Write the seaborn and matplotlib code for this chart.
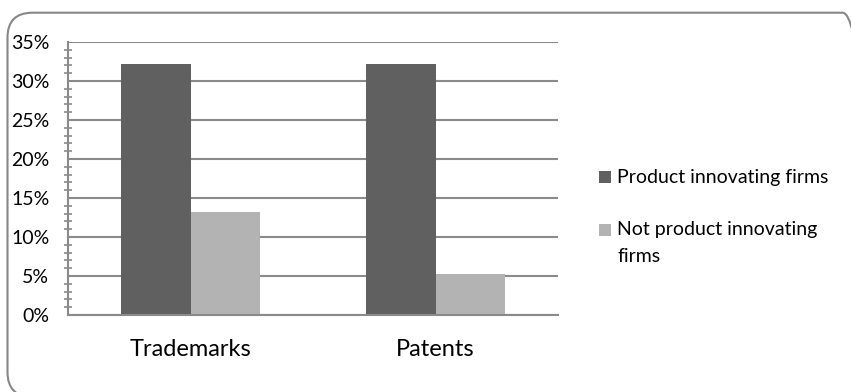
import matplotlib
matplotlib.use("Agg")
import matplotlib.pyplot as plt
import matplotlib.ticker as mticker
from matplotlib.patches import FancyBboxPatch, Rectangle
from matplotlib.transforms import IdentityTransform
import pandas as pd
import seaborn as sns

# Share of firms (%) holding each kind of intellectual property
categories = ["Trademarks", "Patents"]
groups = ["Product innovating firms", "Not product innovating firms"]
innovating = [32.2, 32.2]
not_innovating = [13.2, 5.3]
legend_labels = ["Product innovating firms", "Not product innovating\nfirms"]
colors = ["#606060", "#b3b3b3"]

df = pd.DataFrame({
    "category": categories * 2,
    "group": [groups[0]] * 2 + [groups[1]] * 2,
    "value": innovating + not_innovating,
})

sns.set_theme(style="white")
plt.rcParams["font.family"] = ["Lato", "DejaVu Sans"]

W, H = 851, 392
fig = plt.figure(figsize=(W / 100, H / 100), dpi=100)
ax = fig.add_axes([68 / W, 1 - 315 / H, 490 / W, 273 / H])

sns.barplot(data=df, x="category", y="value", hue="group", palette=colors,
            width=0.567, saturation=1, gap=0, ax=ax, legend=False,
            edgecolor="none", linewidth=0)

grid_c = "#8a8a8a"
ax.set_xlim(-0.5, 1.5)
ax.set_ylim(0, 35)
ax.yaxis.set_major_locator(mticker.MultipleLocator(5))
ax.yaxis.set_minor_locator(mticker.MultipleLocator(1))
ax.yaxis.set_major_formatter(mticker.FuncFormatter(lambda v, p: f"{v:.0f}%"))
ax.grid(axis="y", which="major", color=grid_c, linewidth=1.5)
ax.set_axisbelow(True)
for s in ["top", "right"]:
    ax.spines[s].set_visible(False)
for s in ["left", "bottom"]:
    ax.spines[s].set_color(grid_c)
    ax.spines[s].set_linewidth(1.5)

ax.set_xticks([0, 1])
ax.set_xticks([-0.5, 0.5, 1.5, 0, 1], minor=True)
ax.tick_params(axis="x", which="major", length=0, pad=17, labelsize=17,
               labelcolor="#000000")
ax.tick_params(axis="x", which="minor", direction="out", length=6,
               width=1.5, color=grid_c)
ax.tick_params(axis="y", which="major", direction="out", length=4.5,
               width=1.5, color=grid_c, pad=9, labelsize=14,
               labelcolor="#000000")
ax.tick_params(axis="y", which="minor", direction="inout", length=6,
               width=1.2, color=grid_c, left=True)
ax.set_xlabel("")
ax.set_ylabel("")

# legend: square swatch aligned with the first line of each label
tr = IdentityTransform()
swatch_tops = [171, 224]
text_baselines = [183, 236]
line_step = 26
for c, lab, top, base in zip(colors, legend_labels, swatch_tops, text_baselines):
    fig.add_artist(Rectangle((599, H - top - 12), 12, 12, transform=tr,
                             facecolor=c, edgecolor="none"))
    n_extra = lab.count("\n")
    fig.text(617, H - (base + n_extra * line_step), lab, transform=tr,
             fontsize=14, color="#000000", ha="left", va="baseline",
             linespacing=1.72)

# rounded chart-area border
border = FancyBboxPatch((7.5, -5), 860, 392 - 12.7 + 5,
                        boxstyle="round,pad=0,rounding_size=25",
                        transform=tr, facecolor="none",
                        edgecolor="#878787", linewidth=1.5)
fig.patches.append(border)

fig.savefig("out.png", dpi=100)
